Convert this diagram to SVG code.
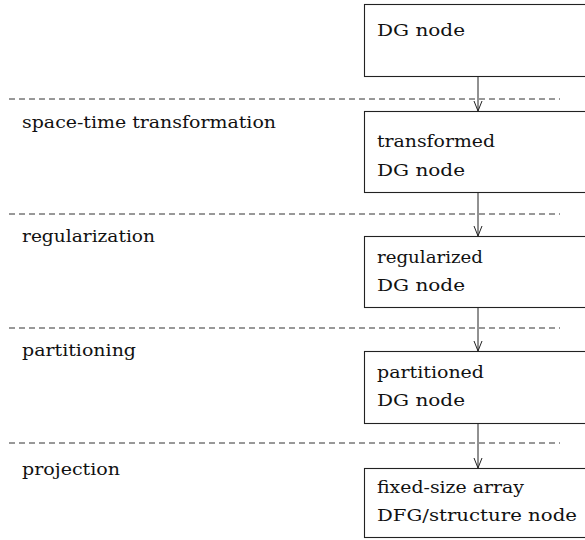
<svg xmlns="http://www.w3.org/2000/svg" width="585" height="540" viewBox="0 0 585 540">
<defs>
<style>
text{font-family:"DejaVu Serif","Liberation Serif",serif;font-size:16px;fill:#111}
.box{fill:#fff;stroke:#222;stroke-width:1.1}
.sep{stroke:#333;stroke-width:1;stroke-dasharray:6 4;fill:none}
.arr{stroke:#222;stroke-width:1;fill:none}
</style>
<marker id="ah" markerWidth="12" markerHeight="10" refX="11" refY="5" orient="auto" markerUnits="userSpaceOnUse" viewBox="0 0 12 10">
<path d="M1,1 L11,5 L1,9" fill="none" stroke="#222" stroke-width="1"/>
</marker>
</defs>
<rect width="585" height="540" fill="#fff"/>
<g id="separators">
<line class="sep" x1="9" y1="99" x2="560" y2="99"/>
<line class="sep" x1="9" y1="214" x2="560" y2="214"/>
<line class="sep" x1="9" y1="328" x2="560" y2="328"/>
<line class="sep" x1="9" y1="443" x2="560" y2="443"/>
</g>
<g id="labels">
<text x="22" y="128" textLength="254" lengthAdjust="spacingAndGlyphs">space-time transformation</text>
<text x="22" y="242" textLength="133" lengthAdjust="spacingAndGlyphs">regularization</text>
<text x="22" y="356" textLength="114" lengthAdjust="spacingAndGlyphs">partitioning</text>
<text x="22" y="475" textLength="98" lengthAdjust="spacingAndGlyphs">projection</text>
</g>
<g id="connectors">
<line class="arr" x1="478" y1="77" x2="478" y2="111" marker-end="url(#ah)"/>
<line class="arr" x1="478" y1="192" x2="478" y2="236" marker-end="url(#ah)"/>
<line class="arr" x1="478" y1="307" x2="478" y2="351" marker-end="url(#ah)"/>
<line class="arr" x1="478" y1="423" x2="478" y2="468" marker-end="url(#ah)"/>
</g>
<g id="node-dg">
<rect class="box" x="364.5" y="4.5" width="230" height="72"/>
<text x="377" y="36" textLength="88" lengthAdjust="spacingAndGlyphs">DG node</text>
</g>
<g id="node-transformed">
<rect class="box" x="364.5" y="111.5" width="230" height="81"/>
<text x="377" y="147" textLength="118" lengthAdjust="spacingAndGlyphs">transformed</text>
<text x="377" y="176" textLength="88" lengthAdjust="spacingAndGlyphs">DG node</text>
</g>
<g id="node-regularized">
<rect class="box" x="364.5" y="236.5" width="230" height="71"/>
<text x="377" y="263" textLength="106" lengthAdjust="spacingAndGlyphs">regularized</text>
<text x="377" y="291" textLength="88" lengthAdjust="spacingAndGlyphs">DG node</text>
</g>
<g id="node-partitioned">
<rect class="box" x="364.5" y="351.5" width="230" height="72"/>
<text x="377" y="378" textLength="107" lengthAdjust="spacingAndGlyphs">partitioned</text>
<text x="377" y="406" textLength="88" lengthAdjust="spacingAndGlyphs">DG node</text>
</g>
<g id="node-array">
<rect class="box" x="364.5" y="468.5" width="230" height="69"/>
<text x="377" y="493" textLength="147" lengthAdjust="spacingAndGlyphs">fixed-size array</text>
<text x="377" y="521" textLength="200" lengthAdjust="spacingAndGlyphs">DFG/structure node</text>
</g>
</svg>
